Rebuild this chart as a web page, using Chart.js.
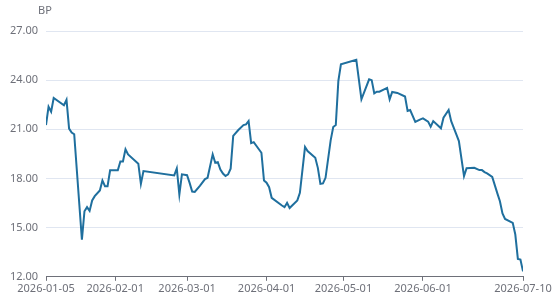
<!DOCTYPE html>
<html>
<head>
<meta charset="utf-8">
<script src="https://cdn.jsdelivr.net/npm/chart.js@4"></script>
<style>
  html, body { margin: 0; padding: 0; background: #fff; }
  #wrap { width: 554px; height: 301px; }
</style>
</head>
<body>
<div id="wrap"><canvas id="myChart" width="554" height="301"></canvas></div>
<script>
const dates = [
  '2026-01-05', '2026-01-06', '2026-01-07', '2026-01-08', '2026-01-12', '2026-01-13', '2026-01-14',
  '2026-01-15', '2026-01-16', '2026-01-19', '2026-01-20', '2026-01-21', '2026-01-22', '2026-01-23',
  '2026-01-24', '2026-01-26', '2026-01-27', '2026-01-28', '2026-01-29', '2026-01-30', '2026-02-02',
  '2026-02-03', '2026-02-04', '2026-02-05', '2026-02-06', '2026-02-10', '2026-02-11', '2026-02-12',
  '2026-02-24', '2026-02-25', '2026-02-26', '2026-02-27', '2026-03-01', '2026-03-02', '2026-03-03',
  '2026-03-04', '2026-03-06', '2026-03-08', '2026-03-09', '2026-03-11', '2026-03-12', '2026-03-13',
  '2026-03-14', '2026-03-15', '2026-03-16', '2026-03-17', '2026-03-18', '2026-03-19', '2026-03-21',
  '2026-03-23', '2026-03-24', '2026-03-25', '2026-03-26', '2026-03-27', '2026-03-30', '2026-03-31',
  '2026-04-01', '2026-04-02', '2026-04-03', '2026-04-07', '2026-04-08', '2026-04-09', '2026-04-10',
  '2026-04-13', '2026-04-14', '2026-04-16', '2026-04-17', '2026-04-20', '2026-04-21', '2026-04-22',
  '2026-04-23', '2026-04-24', '2026-04-26', '2026-04-27', '2026-04-28', '2026-04-29', '2026-04-30',
  '2026-05-06', '2026-05-08', '2026-05-11', '2026-05-12', '2026-05-13', '2026-05-14', '2026-05-15',
  '2026-05-18', '2026-05-19', '2026-05-20', '2026-05-22', '2026-05-25', '2026-05-26', '2026-05-27',
  '2026-05-29', '2026-05-31', '2026-06-01', '2026-06-03', '2026-06-04', '2026-06-05', '2026-06-08',
  '2026-06-09', '2026-06-11', '2026-06-12', '2026-06-14', '2026-06-15', '2026-06-17', '2026-06-18',
  '2026-06-21', '2026-06-23', '2026-06-24', '2026-06-25', '2026-06-26', '2026-06-28', '2026-06-30',
  '2026-07-01', '2026-07-02', '2026-07-03', '2026-07-06', '2026-07-07', '2026-07-08', '2026-07-09',
  '2026-07-10'
];

const spread = [
  21.26, 22.38, 22.08, 22.91, 22.47, 22.80, 21.04,
  20.80, 20.70, 14.27, 16.00, 16.25, 16.02, 16.66,
  16.92, 17.27, 17.88, 17.53, 17.53, 18.50, 18.50,
  19.04, 19.04, 19.78, 19.47, 18.90, 17.67, 18.45,
  18.19, 18.61, 17.02, 18.25, 18.20, 17.73, 17.20,
  17.18, 17.55, 17.96, 18.04, 19.47, 18.96, 19.00,
  18.55, 18.30, 18.15, 18.25, 18.60, 20.60, 20.96,
  21.26, 21.30, 21.50, 20.16, 20.22, 19.57, 17.88,
  17.74, 17.47, 16.82, 16.35, 16.25, 16.51, 16.20,
  16.66, 17.12, 19.92, 19.67, 19.26, 18.65, 17.67,
  17.70, 18.04, 20.33, 21.14, 21.26, 23.95, 24.97,
  25.24, 22.83, 24.05, 24.00, 23.20, 23.30, 23.30,
  23.53, 22.83, 23.28, 23.22, 23.00, 22.12, 22.18,
  21.45, 21.61, 21.67, 21.47, 21.16, 21.50, 21.06,
  21.71, 22.18, 21.50, 20.69, 20.28, 18.14, 18.63,
  18.65, 18.51, 18.51, 18.39, 18.31, 18.10, 17.09,
  16.61, 15.86, 15.53, 15.29, 14.58, 13.09, 13.05,
  12.33
];

const xTickDates = ['2026-01-05', '2026-02-01', '2026-03-01', '2026-04-01', '2026-05-01', '2026-06-01', '2026-07-10'];
const yTicks = [12, 15, 18, 21, 24, 27];
const unitLabel = 'BP';

const DAY = 86400000;
const start = Date.parse(dates[0]);
const dayOf = (d) => Math.round((Date.parse(d) - start) / DAY);
const dateOf = (n) => new Date(start + n * DAY).toISOString().slice(0, 10);

const points = dates.map((d, i) => ({ x: dayOf(d), y: spread[i] }));
const xTickValues = xTickDates.map(dayOf);

const unitPlugin = {
  id: 'unitLabel',
  afterDraw(chart) {
    const ctx = chart.ctx;
    ctx.save();
    ctx.font = '11px "Noto Sans", sans-serif';
    ctx.fillStyle = '#6E7079';
    ctx.textAlign = 'center';
    ctx.textBaseline = 'middle';
    ctx.fillText(unitLabel, chart.chartArea.left - 1, 11);
    ctx.restore();
  },
};

const ctx = document.getElementById('myChart').getContext('2d');
const myChart = new Chart(ctx, {
  type: 'line',
  data: {
    datasets: [
      {
        label: unitLabel,
        data: points,
        borderColor: '#1F6F9E',
        borderWidth: 2,
        pointRadius: 0,
        tension: 0,
        fill: false,
      },
    ],
  },
  options: {
    responsive: false,
    animation: false,
    layout: { padding: { top: 31, right: 31, left: 0, bottom: 5 } },
    plugins: {
      legend: { display: false },
      tooltip: { enabled: false },
    },
    scales: {
      x: {
        type: 'linear',
        min: xTickValues[0],
        max: xTickValues[xTickValues.length - 1],
        afterBuildTicks: (axis) => {
          axis.ticks = xTickValues.map((v) => ({ value: v }));
        },
        ticks: {
          autoSkip: false,
          maxRotation: 0,
          color: '#6E7079',
          font: { family: '"Noto Sans", sans-serif', size: 11 },
          padding: 1,
          callback: (v) => dateOf(v),
        },
        grid: {
          drawOnChartArea: false,
          drawTicks: true,
          tickLength: 4,
          color: '#6E7079',
        },
        border: { color: '#6E7079', width: 1 },
      },
      y: {
        min: 12,
        max: 27,
        afterBuildTicks: (axis) => {
          axis.ticks = yTicks.map((v) => ({ value: v }));
        },
        afterFit: (axis) => {
          axis.width = 46;
        },
        ticks: {
          color: '#6E7079',
          font: { family: '"Noto Sans", sans-serif', size: 11 },
          padding: 8,
          callback: (v) => v.toFixed(2),
        },
        grid: {
          color: '#E0E6F1',
          drawTicks: false,
        },
        border: { display: false },
      },
    },
  },
  plugins: [unitPlugin],
});
</script>
</body>
</html>
